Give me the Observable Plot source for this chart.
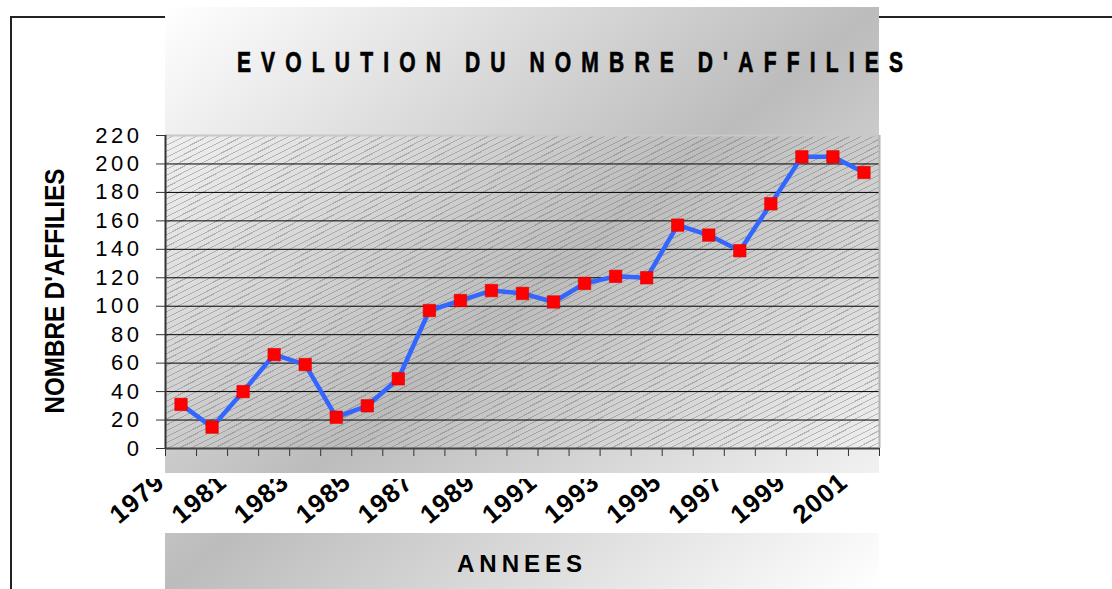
<!DOCTYPE html>
<html>
<head>
<meta charset="utf-8">
<script src="https://cdn.jsdelivr.net/npm/d3@7"></script>
<script src="https://cdn.jsdelivr.net/npm/@observablehq/plot@0.6"></script>
<style>
html,body{margin:0;padding:0;background:#fff;overflow:hidden;}
#stage{position:relative;width:1112px;height:589px;overflow:hidden;font-family:"Liberation Sans",Arial,sans-serif;}
.abs{position:absolute;}
#frame{left:10px;top:16px;width:1110px;height:600px;border-top:2px solid #222;border-left:2px solid #222;}
#panel{left:165px;top:7px;width:714px;height:582px;background:linear-gradient(to bottom right,#ffffff 0%,#bcbcbc 50%,#ffffff 100%);}
#hatch{left:165px;top:135px;width:714px;height:313px;background:repeating-linear-gradient(-27deg, rgba(255,255,255,0) 0px, rgba(255,255,255,0) 4.3px, rgba(110,110,110,0.42) 4.3px, rgba(110,110,110,0.42) 5.3px);}
#whiteband{left:165px;top:473px;width:720px;height:60px;background:#fff;}
.txt{position:absolute;white-space:nowrap;line-height:1;font-weight:bold;color:#000;font-family:"Liberation Sans",Arial,sans-serif;}
#title{-webkit-text-stroke:0.7px #000;word-spacing:-3px;}
#stage svg g[aria-label="y-axis tick label"] text{letter-spacing:3.5px;}
#stage svg g[aria-label="text"] text{letter-spacing:1px;}
</style>
</head>
<body>
<div id="stage">
  <div id="frame" class="abs"></div>
  <div id="panel" class="abs"></div>
  <div id="hatch" class="abs"></div>
  <div id="whiteband" class="abs"></div>
</div>
<script>
const years = [1979,1980,1981,1982,1983,1984,1985,1986,1987,1988,1989,1990,1991,1992,1993,1994,1995,1996,1997,1998,1999,2000,2001];
const affilies = [31,15,40,66,59,22,30,49,97,104,111,109,103,116,121,120,157,150,139,172,205,205,194];
const yearLabels = [1979,1981,1983,1985,1987,1989,1991,1993,1995,1997,1999,2001];
const yTicks = [0,20,40,60,80,100,120,140,160,180,200,220];
const titleText = "EVOLUTION DU NOMBRE D'AFFILIES";
const yTitle = "NOMBRE D'AFFILIES";
const xTitle = "ANNEES";

const data = years.map((year, i) => ({year, value: affilies[i]}));
const bounds = years.map(y => y - 0.5).concat([years[years.length - 1] + 0.5]);
const stage = document.getElementById("stage");

const svg = Plot.plot({
  width: 1112, height: 589,
  marginLeft: 165, marginRight: 233, marginTop: 135, marginBottom: 141,
  style: {background: "transparent", fontFamily: '"Liberation Sans", Arial, sans-serif', color: "#000", overflow: "visible"},
  x: {domain: [bounds[0], bounds[bounds.length - 1]], label: null},
  y: {domain: [0, 220], label: null},
  marks: [
    Plot.gridY(yTicks.filter(v => v > 0 && v < 220), {stroke: "#000", strokeOpacity: 1, strokeWidth: 1}),
    Plot.ruleY([220], {stroke: "#c8c8c8", strokeWidth: 2}),
    Plot.ruleX([bounds[bounds.length - 1]], {stroke: "#b4b4b4", strokeWidth: 2}),
    Plot.axisY({ticks: yTicks, tickSize: 9, tickPadding: 14, fontSize: 22, label: null, stroke: "#333"}),
    Plot.axisX({ticks: bounds, tickSize: 8, tickFormat: () => "", label: null, stroke: "#333"}),
    Plot.ruleY([0], {stroke: "#444", strokeWidth: 2}),
    Plot.ruleX([bounds[0]], {stroke: "#333", strokeWidth: 2}),
    Plot.line(data, {x: "year", y: "value", stroke: "#3366ff", strokeWidth: 4.5}),
    Plot.dot(data, {x: "year", y: "value", symbol: "square", r: 7, fill: "#ff0000", stroke: "#dd0000", strokeWidth: 0.6}),
    Plot.text(yearLabels, {x: d => d, text: d => String(d), frameAnchor: "bottom", dx: -20, dy: 30, rotate: -40, textAnchor: "end", lineAnchor: "middle", fontSize: 26, fontWeight: "bold"})
  ]
});
svg.style.position = "absolute";
svg.style.left = "0px";
svg.style.top = "0px";
stage.appendChild(svg);

// clip the rotated year labels like the reference
const ns = "http://www.w3.org/2000/svg";
const defs = document.createElementNS(ns, "defs");
const cp = document.createElementNS(ns, "clipPath");
cp.setAttribute("id", "lblclip");
cp.setAttribute("clipPathUnits", "userSpaceOnUse");
[[0, 479, 795, 120], [795, 440, 320, 160]].forEach(([x, y, w, h]) => {
  const r = document.createElementNS(ns, "rect");
  r.setAttribute("x", x); r.setAttribute("y", y); r.setAttribute("width", w); r.setAttribute("height", h);
  cp.appendChild(r);
});
defs.appendChild(cp);
svg.insertBefore(defs, svg.firstChild);
const lbl = svg.querySelector('g[aria-label="text"]');
if (lbl) {
  const wrap = document.createElementNS(ns, "g");
  wrap.setAttribute("clip-path", "url(#lblclip)");
  lbl.parentNode.insertBefore(wrap, lbl);
  wrap.appendChild(lbl);
}

function label(str, {id, cx, cy, size, ls = 0, target, rotate = 0}) {
  const el = document.createElement("div");
  el.className = "txt";
  if (id) el.id = id;
  el.textContent = str;
  el.style.fontSize = size + "px";
  el.style.letterSpacing = ls + "px";
  stage.appendChild(el);
  const w = el.getBoundingClientRect().width;
  const s = target / (w - ls);
  const shift = ls * s / 2;
  let x = cx, y = cy;
  if (rotate === 0) x += shift; else y -= shift;
  el.style.left = x + "px";
  el.style.top = y + "px";
  el.style.transform = `translate(-50%,-50%) rotate(${rotate}deg) scaleX(${s})`;
}
label(titleText, {id: "title", cx: 570, cy: 62, size: 29, ls: 14, target: 666});
label(yTitle, {cx: 55, cy: 290.5, size: 28, ls: 0, target: 245, rotate: -90});
label(xTitle, {cx: 519.5, cy: 563.5, size: 24.5, ls: 5, target: 125});
</script>
</body>
</html>
